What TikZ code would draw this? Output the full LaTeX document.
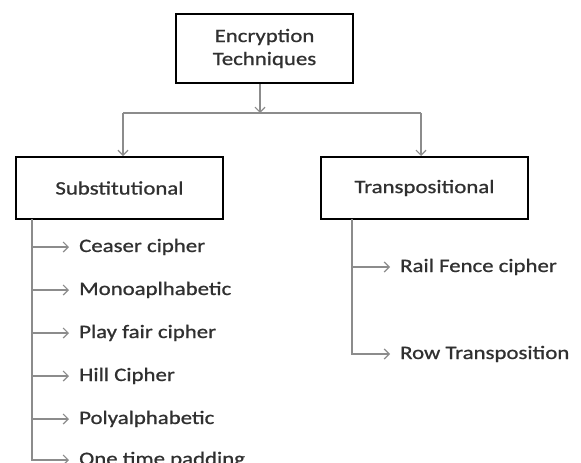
\documentclass[tikz,border=0pt]{standalone}
\usepackage{fontspec}
\setmainfont[FakeStretch=1.2,FakeBold=0.9]{Carlito}
\usetikzlibrary{arrows.meta}
\definecolor{txt}{HTML}{303030}
\definecolor{connc}{HTML}{8C8C8C}
\tikzset{
  box/.style={draw=black, line width=2pt, inner sep=0pt, align=center,
    font=\fontsize{19}{23}\selectfont, text=txt},
  conn/.style={draw=connc, line width=1.4pt},
  arr/.style={conn, -{Straight Barb[length=5pt,width=10pt,line width=1.2pt]}},
  item/.style={anchor=west, inner xsep=10pt, inner ysep=0pt, text height=10pt,
    text depth=0pt, font=\fontsize{19}{23}\selectfont, text=txt}
}
\begin{document}
\begin{tikzpicture}[x=1pt,y=-1pt]
\useasboundingbox (0,0) rectangle (581,463);
% boxes
\node[box, minimum width=177pt, minimum height=69pt] (top) at (264.5,48.5) {Encryption\\Techniques};
\node[box, minimum width=207pt, minimum height=62pt] (sub) at (119.5,188) {Substitutional};
\node[box, minimum width=207pt, minimum height=62pt] (trans) at (424.5,188) {Transpositional};
% bus
\coordinate (bm) at (260,113);
\coordinate (bl) at (123,113);
\coordinate (br) at (421,113);
\draw[arr] (top.south -| bm) -- (bm);
\draw[conn] (bl) -- (br);
\draw[arr] (bl) -- (bl |- sub.north);
\draw[arr] (br) -- (br |- trans.north);
% substitutional items
\node[item] (s1) at (69,247) {Ceaser cipher};
\node[item] (s2) at (69,290) {Monoaplhabetic};
\node[item] (s3) at (69,333) {Play fair cipher};
\node[item] (s4) at (69,376) {Hill Cipher};
\node[item] (s5) at (69,419) {Polyalphabetic};
\node[item] (s6) at (69,460) {One time padding};
\coordinate (st) at (32,219);
\draw[arr] (st) |- (s6.west);
\foreach \i in {1,...,5} \draw[arr] (s\i.west -| st) -- (s\i.west);
% transpositional items
\node[item] (t1) at (390,267) {Rail Fence cipher};
\node[item] (t2) at (390,354) {Row Transposition};
\coordinate (tt) at (352,219);
\draw[arr] (tt) |- (t2.west);
\draw[arr] (t1.west -| tt) -- (t1.west);
\end{tikzpicture}
\end{document}
